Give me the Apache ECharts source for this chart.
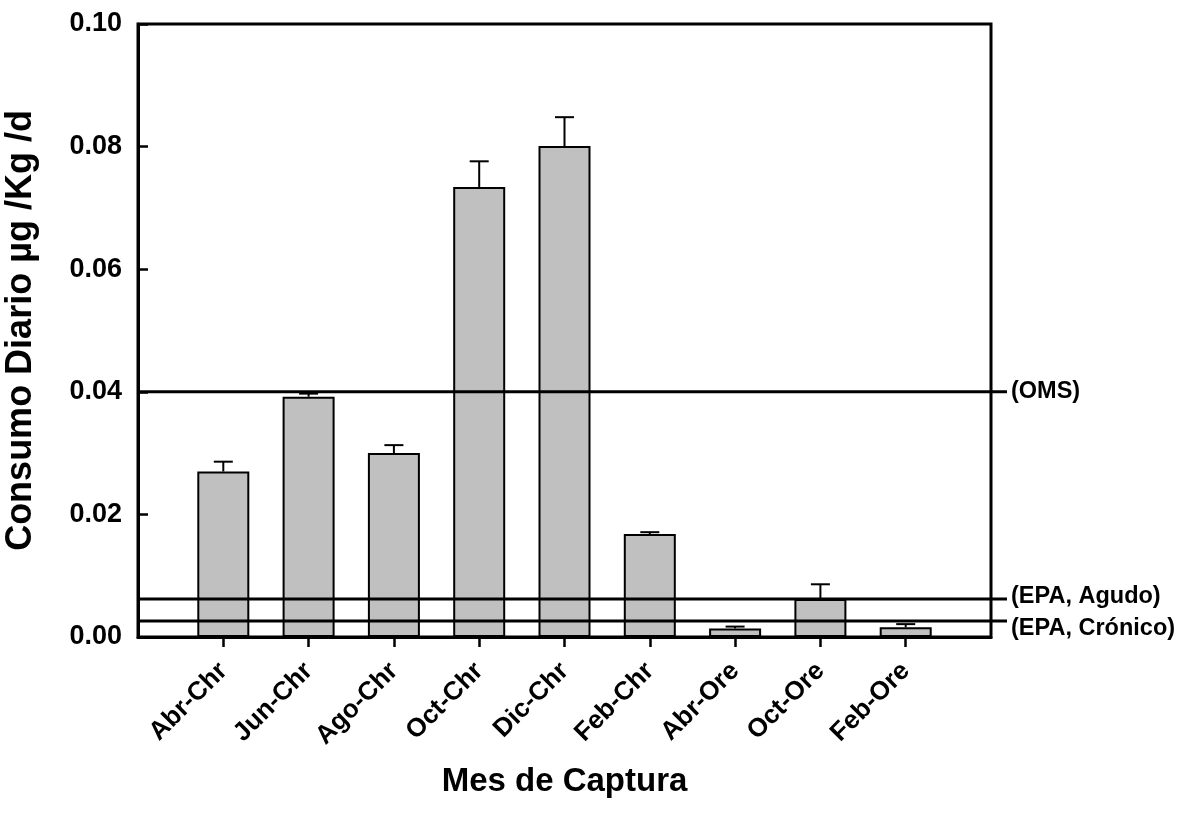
<!DOCTYPE html>
<html>
<head>
<meta charset="utf-8">
<title>Consumo Diario</title>
<script src="https://cdn.jsdelivr.net/npm/echarts@6/dist/echarts.min.js"></script>
<style>
  html, body { margin: 0; padding: 0; background: #fff; }
  #chart { width: 1180px; height: 824px; }
</style>
</head>
<body>
<div id="chart"></div>
<script>
// Capture month / species groups
const categories = ['Abr-Chr', 'Jun-Chr', 'Ago-Chr', 'Oct-Chr', 'Dic-Chr', 'Feb-Chr', 'Abr-Ore', 'Oct-Ore', 'Feb-Ore'];
// Mean daily intake (µg/Kg/d) and its standard error
const means = [0.0270, 0.0392, 0.0300, 0.0734, 0.0801, 0.0168, 0.0014, 0.0062, 0.0016];
const errors = [0.0016, 0.0005, 0.0013, 0.0042, 0.0047, 0.0003, 0.0003, 0.0024, 0.0005];
// Reference intake limits
const limitNames = ['(OMS)', '(EPA, Agudo)', '(EPA, Crónico)'];
const limitValues = [0.04, 0.0062, 0.0026];
// Y axis scale
const yMin = 0, yMax = 0.10, yStep = 0.02;

const FONT = '"Liberation Sans", Arial, sans-serif';
// Blank slots on both ends leave a half-gap before the first and after the last bar
const paddedCats = [''].concat(categories, ['']);
// Vertical nudges that keep the two close limit labels apart
const limitLabelShift = [0, -2, 7];

const chart = echarts.init(document.getElementById('chart'));

const limitSeries = limitNames.map((name, i) => ({
  name: name,
  type: 'line',
  xAxisIndex: 1,
  yAxisIndex: 1,
  data: [[0, limitValues[i]], [1, limitValues[i]]],
  symbol: 'none',
  silent: true,
  z: 5,
  lineStyle: { color: '#000', width: 3 },
  endLabel: {
    show: true,
    formatter: name,
    distance: 4,
    offset: [0, limitLabelShift[i]],
    color: '#000',
    fontFamily: FONT,
    fontWeight: 'bold',
    fontSize: 23.5
  }
}));

chart.setOption({
  animation: false,
  backgroundColor: '#fff',
  grid: [
    { left: 138, right: 189, top: 24, bottom: 187, outerBoundsMode: 'none', containLabel: false,
      show: true, borderColor: '#000', borderWidth: 3, backgroundColor: 'transparent' },
    { left: 138, right: 173, top: 24, bottom: 187, outerBoundsMode: 'none', containLabel: false }
  ],
  xAxis: [
    {
      type: 'category',
      gridIndex: 0,
      data: paddedCats,
      boundaryGap: false,
      name: 'Mes de Captura',
      nameLocation: 'middle',
      nameGap: 128,
      nameTextStyle: { color: '#000', fontFamily: FONT, fontWeight: 'bold', fontSize: 33 },
      axisLine: { lineStyle: { color: '#000', width: 3 } },
      axisTick: {
        show: true,
        length: 10,
        interval: (idx, val) => val !== '',
        lineStyle: { color: '#000', width: 2.5 }
      },
      axisLabel: {
        interval: (idx, val) => val !== '',
        rotate: 45,
        margin: 30,
        color: '#000',
        fontFamily: FONT,
        fontWeight: 'bold',
        fontSize: 26
      },
      splitLine: { show: false }
    },
    { type: 'value', gridIndex: 1, min: 0, max: 1, show: false }
  ],
  yAxis: [
    {
      type: 'value',
      gridIndex: 0,
      min: yMin,
      max: yMax,
      interval: yStep,
      name: 'Consumo Diario µg /Kg /d',
      nameLocation: 'middle',
      nameGap: 99,
      nameTextStyle: { color: '#000', fontFamily: FONT, fontWeight: 'bold', fontSize: 36 },
      axisLine: { show: true, lineStyle: { color: '#000', width: 3 } },
      axisTick: { show: true, inside: true, length: 10, lineStyle: { color: '#000', width: 2.5 } },
      axisLabel: {
        margin: 16,
        color: '#000',
        fontFamily: FONT,
        fontWeight: 'bold',
        fontSize: 27,
        formatter: v => v.toFixed(2)
      },
      splitLine: { show: false }
    },
    { type: 'value', gridIndex: 1, min: yMin, max: yMax, show: false }
  ],
  series: [
    {
      type: 'bar',
      data: categories.map((c, i) => [c, means[i]]),
      barWidth: 52,
      itemStyle: { color: '#c0c0c0', borderColor: '#000', borderWidth: 2 },
      z: 2
    },
    {
      type: 'custom',
      data: categories.map((c, i) => [c, means[i], means[i] + errors[i]]),
      encode: { x: 0, y: [1, 2] },
      z: 3,
      renderItem: function (params, api) {
        const cat = api.value(0);
        const lo = api.coord([cat, api.value(1)]);
        const hi = api.coord([cat, api.value(2)]);
        const half = 9.5;
        return {
          type: 'group',
          children: [
            { type: 'line', shape: { x1: lo[0], y1: lo[1], x2: hi[0], y2: hi[1] }, style: { stroke: '#000', lineWidth: 2 } },
            { type: 'line', shape: { x1: hi[0] - half, y1: hi[1], x2: hi[0] + half, y2: hi[1] }, style: { stroke: '#000', lineWidth: 2 } }
          ]
        };
      }
    }
  ].concat(limitSeries)
});
</script>
</body>
</html>
